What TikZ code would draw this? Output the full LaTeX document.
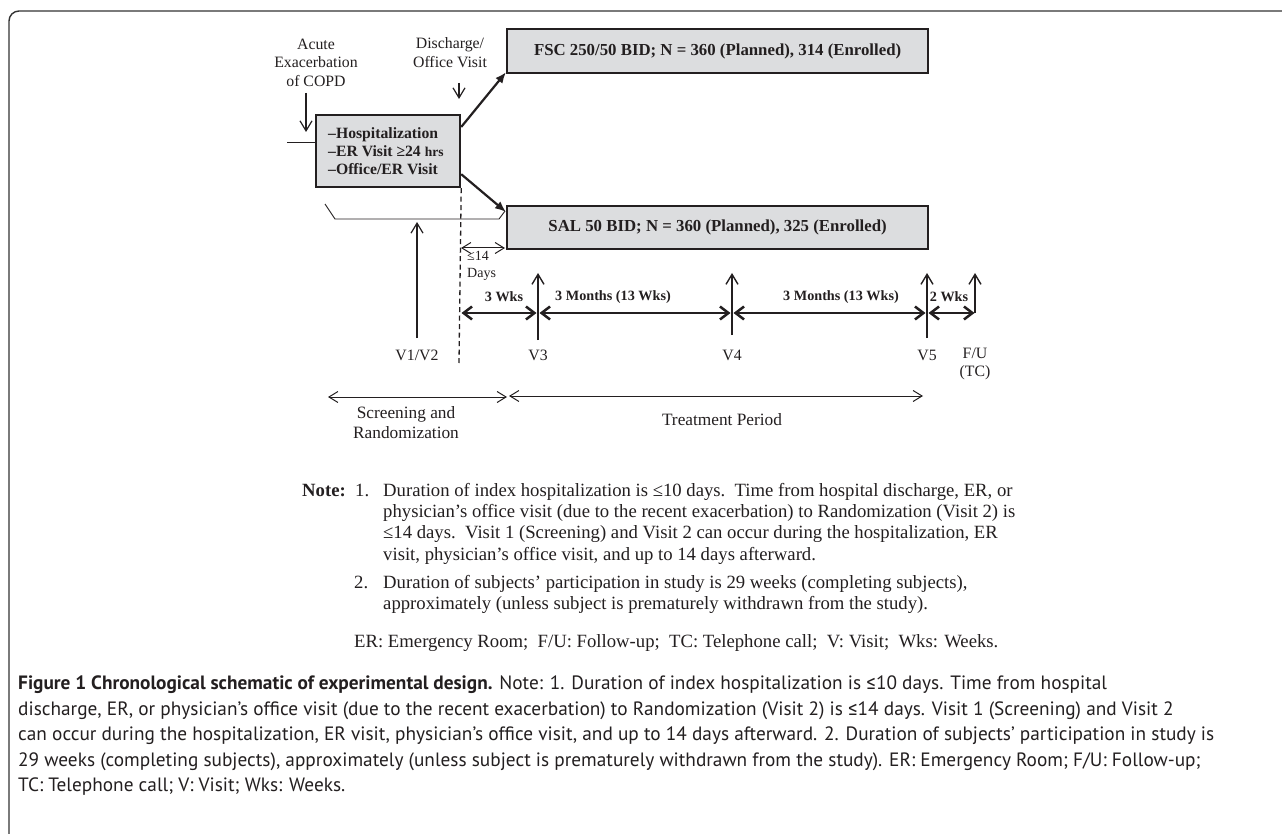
\documentclass[tikz,border=0pt]{standalone}
\usepackage{fontspec}
\setmainfont{Liberation Serif}
\newfontfamily\capfont{PT Sans}
\newfontfamily\lefont{Fira Sans}
\newcommand{\capleq}{{\lefont ≤}}
\usetikzlibrary{arrows.meta,calc}
\definecolor{ink}{HTML}{231F20}
\definecolor{boxfill}{HTML}{DCDDDF}
\definecolor{framec}{HTML}{333333}
\begin{document}
\begin{tikzpicture}[x=1pt,y=-1pt,
  every node/.style={text=ink, inner sep=0pt},
  boxnode/.style={draw=ink, line width=2.2pt, fill=boxfill, font=\bfseries\fontsize{16.8}{18}\selectfont},
  lbl/.style={align=center, font=\fontsize{15.8}{18.5}\selectfont},
  biglbl/.style={align=center, font=\fontsize{17.3}{20}\selectfont},
  seglbl/.style={font=\bfseries\fontsize{14.2}{17}\selectfont},
  notetxt/.style={anchor=base west, font=\fontsize{18.7}{21}\selectfont},
  captxt/.style={anchor=base west, font=\capfont\fontsize{19.3}{22}\selectfont},
  thinarrow/.style={draw=ink, line width=1.2pt, -{Straight Barb[length=10pt,width=12pt]}},
  thinboth/.style={draw=ink, line width=1pt, {Straight Barb[length=9pt,width=11pt]}-{Straight Barb[length=9pt,width=11pt]}},
  boldboth/.style={draw=ink, line width=2.5pt, {Straight Barb[length=8.5pt,width=13pt]}-{Straight Barb[length=8.5pt,width=13pt]}},
  fatarrow/.style={draw=ink, line width=2.2pt, -{Latex[length=11pt,width=9pt]}},
  vline/.style={draw=ink, line width=1.4pt, -{Straight Barb[length=10pt,width=12pt]}},
  frameline/.style={draw=framec, line width=1.4pt, rounded corners=10pt}
]
\useasboundingbox (0,0) rectangle (1282,834);
\path[fill=white] (0,0) rectangle (1282,834);
\draw[frameline] (9,840) -- (9,11) -- (1290,11);

% boxes
\node[boxnode, anchor=north west, minimum width=144pt, minimum height=72pt] (hosp) at (315,114) {};
\node[anchor=west, align=left, font=\bfseries\fontsize{15.7}{18}\selectfont] (hosptxt) at ($(hosp.west)+(13,0)$)
  {–Hospitalization\\–ER Visit ≥24 {\fontsize{13.5}{18}\selectfont hrs}\\–Office/ER Visit};
\node[boxnode, anchor=north west, minimum width=421pt, minimum height=44pt] (fsc) at (506,28)
  {FSC 250/50 BID; N = 360 (Planned), 314 (Enrolled)};
\node[boxnode, anchor=north west, minimum width=421pt, minimum height=43pt] (sal) at (506,205)
  {SAL 50 BID; N = 360 (Planned), 325 (Enrolled)};

% top labels
\node[lbl] (acute) at (316,62.5) {Acute\\Exacerbation\\of COPD};
\coordinate (acuteA) at (306,93);
\coordinate (acuteB) at (306,132);
\draw[thinarrow] (acuteA) -- (acuteB);
\coordinate (lineL) at (287,143);
\draw[draw=ink, line width=1pt] (lineL) -- (lineL -| hosp.west);

\node[lbl] (disch) at (450,52.5) {Discharge/\\Office Visit};
\coordinate (dischA) at (459,83);
\coordinate (dischB) at (459,99);
\draw[thinarrow] (dischA) -- (dischB);

% arms
\draw[fatarrow] ($(hosp.north east)+(0,13)$) -- ($(fsc.south west)+(0,-2)$);
\draw[fatarrow] ($(hosp.south east)+(0,-14)$) -- ($(sal.north west)+(0,7)$);

% dashed randomization line
\coordinate (dashEnd) at (459,363);
\draw[draw=ink, line width=1.3pt, dash pattern=on 5pt off 3.5pt] (hosp.south east) -- (dashEnd);

% bracket
\coordinate (b1) at (325,204);
\coordinate (b2) at (335,219);
\coordinate (b3) at (499,219);
\coordinate (b4) at (505,211);
\draw[draw=ink, line width=0.9pt] (b1) -- (b2) -- (b3) -- (b4);

% V1/V2
\coordinate (v12b) at (417,338);
\coordinate (v12t) at (417,222);
\draw[thinarrow] (v12b) -- (v12t);
\node[lbl] (v12) at (417,355) {V1/V2};

% <=14 days
\coordinate (d14a) at (461,248);
\coordinate (d14b) at (505,248);
\draw[thinboth] (d14a) -- (d14b);
\node[align=left, anchor=west, font=\fontsize{14}{17}\selectfont] (d14) at (467,265.5) {≤14\\Days};

% timeline
\coordinate (t0) at (461,313);
\coordinate (t3) at (538,313);
\coordinate (t4) at (732,313);
\coordinate (t5) at (927,313);
\coordinate (tf) at (975,313);
\draw[boldboth] ($(t0)+(0.5,0)$) -- ($(t3)+(-1.5,0)$);
\draw[boldboth] ($(t3)+(1.5,0)$) -- ($(t4)+(-1.5,0)$);
\draw[boldboth] ($(t4)+(1.5,0)$) -- ($(t5)+(-1.5,0)$);
\draw[boldboth] ($(t5)+(1.5,0)$) -- ($(tf)+(-0.5,0)$);

\coordinate (v3b) at (538,340); \coordinate (v3t) at (538,273);
\coordinate (v4b) at (732,335); \coordinate (v4t) at (732,273);
\coordinate (v5b) at (927,338); \coordinate (v5t) at (927,273);
\coordinate (vft) at (975,273);
\draw[vline] (v3b) -- (v3t);
\draw[vline] (v4b) -- (v4t);
\draw[vline] (v5b) -- (v5t);
\draw[vline] (tf) -- (vft);

\node[seglbl] (s1) at (504,297) {3 Wks};
\node[seglbl] (s2) at (613,297) {3 Months (13 Wks)};
\node[seglbl] (s3) at (841,297) {3 Months (13 Wks)};
\node[seglbl] (s4) at (949,297) {2 Wks};

\node[lbl] (v3) at (538,355) {V3};
\node[lbl] (v4) at (732,355) {V4};
\node[lbl] (v5) at (927,355) {V5};
\node[lbl] (vf) at (975,364) {F/U\\(TC)};

% periods
\coordinate (p0) at (328,397);
\coordinate (p1) at (507,397);
\coordinate (p1b) at (509,396);
\coordinate (p2) at (923,396);
\draw[thinboth] (p0) -- (p1);
\draw[thinboth] (p1b) -- (p2);
\node[biglbl] (scr) at (406,423) {Screening and\\Randomization};
\node[biglbl] (trt) at (722,420) {Treatment Period};

% notes
\node[notetxt, font=\bfseries\fontsize{18.7}{21}\selectfont] (note) at (302,496.5) {Note:};
\node[notetxt] (n1) at (355,496.5) {1.};
\node[notetxt] (n1a) at (383,496.5) {Duration of index hospitalization is ≤10 days.\ \ Time from hospital discharge, ER, or};
\node[notetxt] (n1b) at (383,517.5) {physician’s office visit (due to the recent exacerbation) to Randomization (Visit 2) is};
\node[notetxt] (n1c) at (383,538.5) {≤14 days.\ \ Visit 1 (Screening) and Visit 2 can occur during the hospitalization, ER};
\node[notetxt] (n1d) at (383,560.5) {visit, physician’s office visit, and up to 14 days afterward.};
\node[notetxt] (n2) at (354,588.5) {2.};
\node[notetxt] (n2a) at (383,588.5) {Duration of subjects’ participation in study is 29 weeks (completing subjects),};
\node[notetxt] (n2b) at (383,609.5) {approximately (unless subject is prematurely withdrawn from the study).};
\node[notetxt] (abbr) at (354,647.5) {ER: Emergency Room;\ \ F/U: Follow-up;\ \ TC: Telephone call;\ \ V: Visit;\ \ Wks: Weeks.};

% caption
\node[captxt] (c1) at (18,689.5) {{\bfseries Figure 1 Chronological schematic of experimental design.} Note: 1. Duration of index hospitalization is \capleq10 days. Time from hospital};
\node[captxt] (c2) at (18,715) {discharge, ER, or physician’s office visit (due to the recent exacerbation) to Randomization (Visit 2) is \capleq14 days. Visit 1 (Screening) and Visit 2};
\node[captxt] (c3) at (18,740.5) {can occur during the hospitalization, ER visit, physician’s office visit, and up to 14 days afterward. 2. Duration of subjects’ participation in study is};
\node[captxt] (c4) at (18,766) {29 weeks (completing subjects), approximately (unless subject is prematurely withdrawn from the study). ER: Emergency Room; F/U: Follow-up;};
\node[captxt] (c5) at (18,791.5) {TC: Telephone call; V: Visit; Wks: Weeks.};
\end{tikzpicture}
\end{document}
